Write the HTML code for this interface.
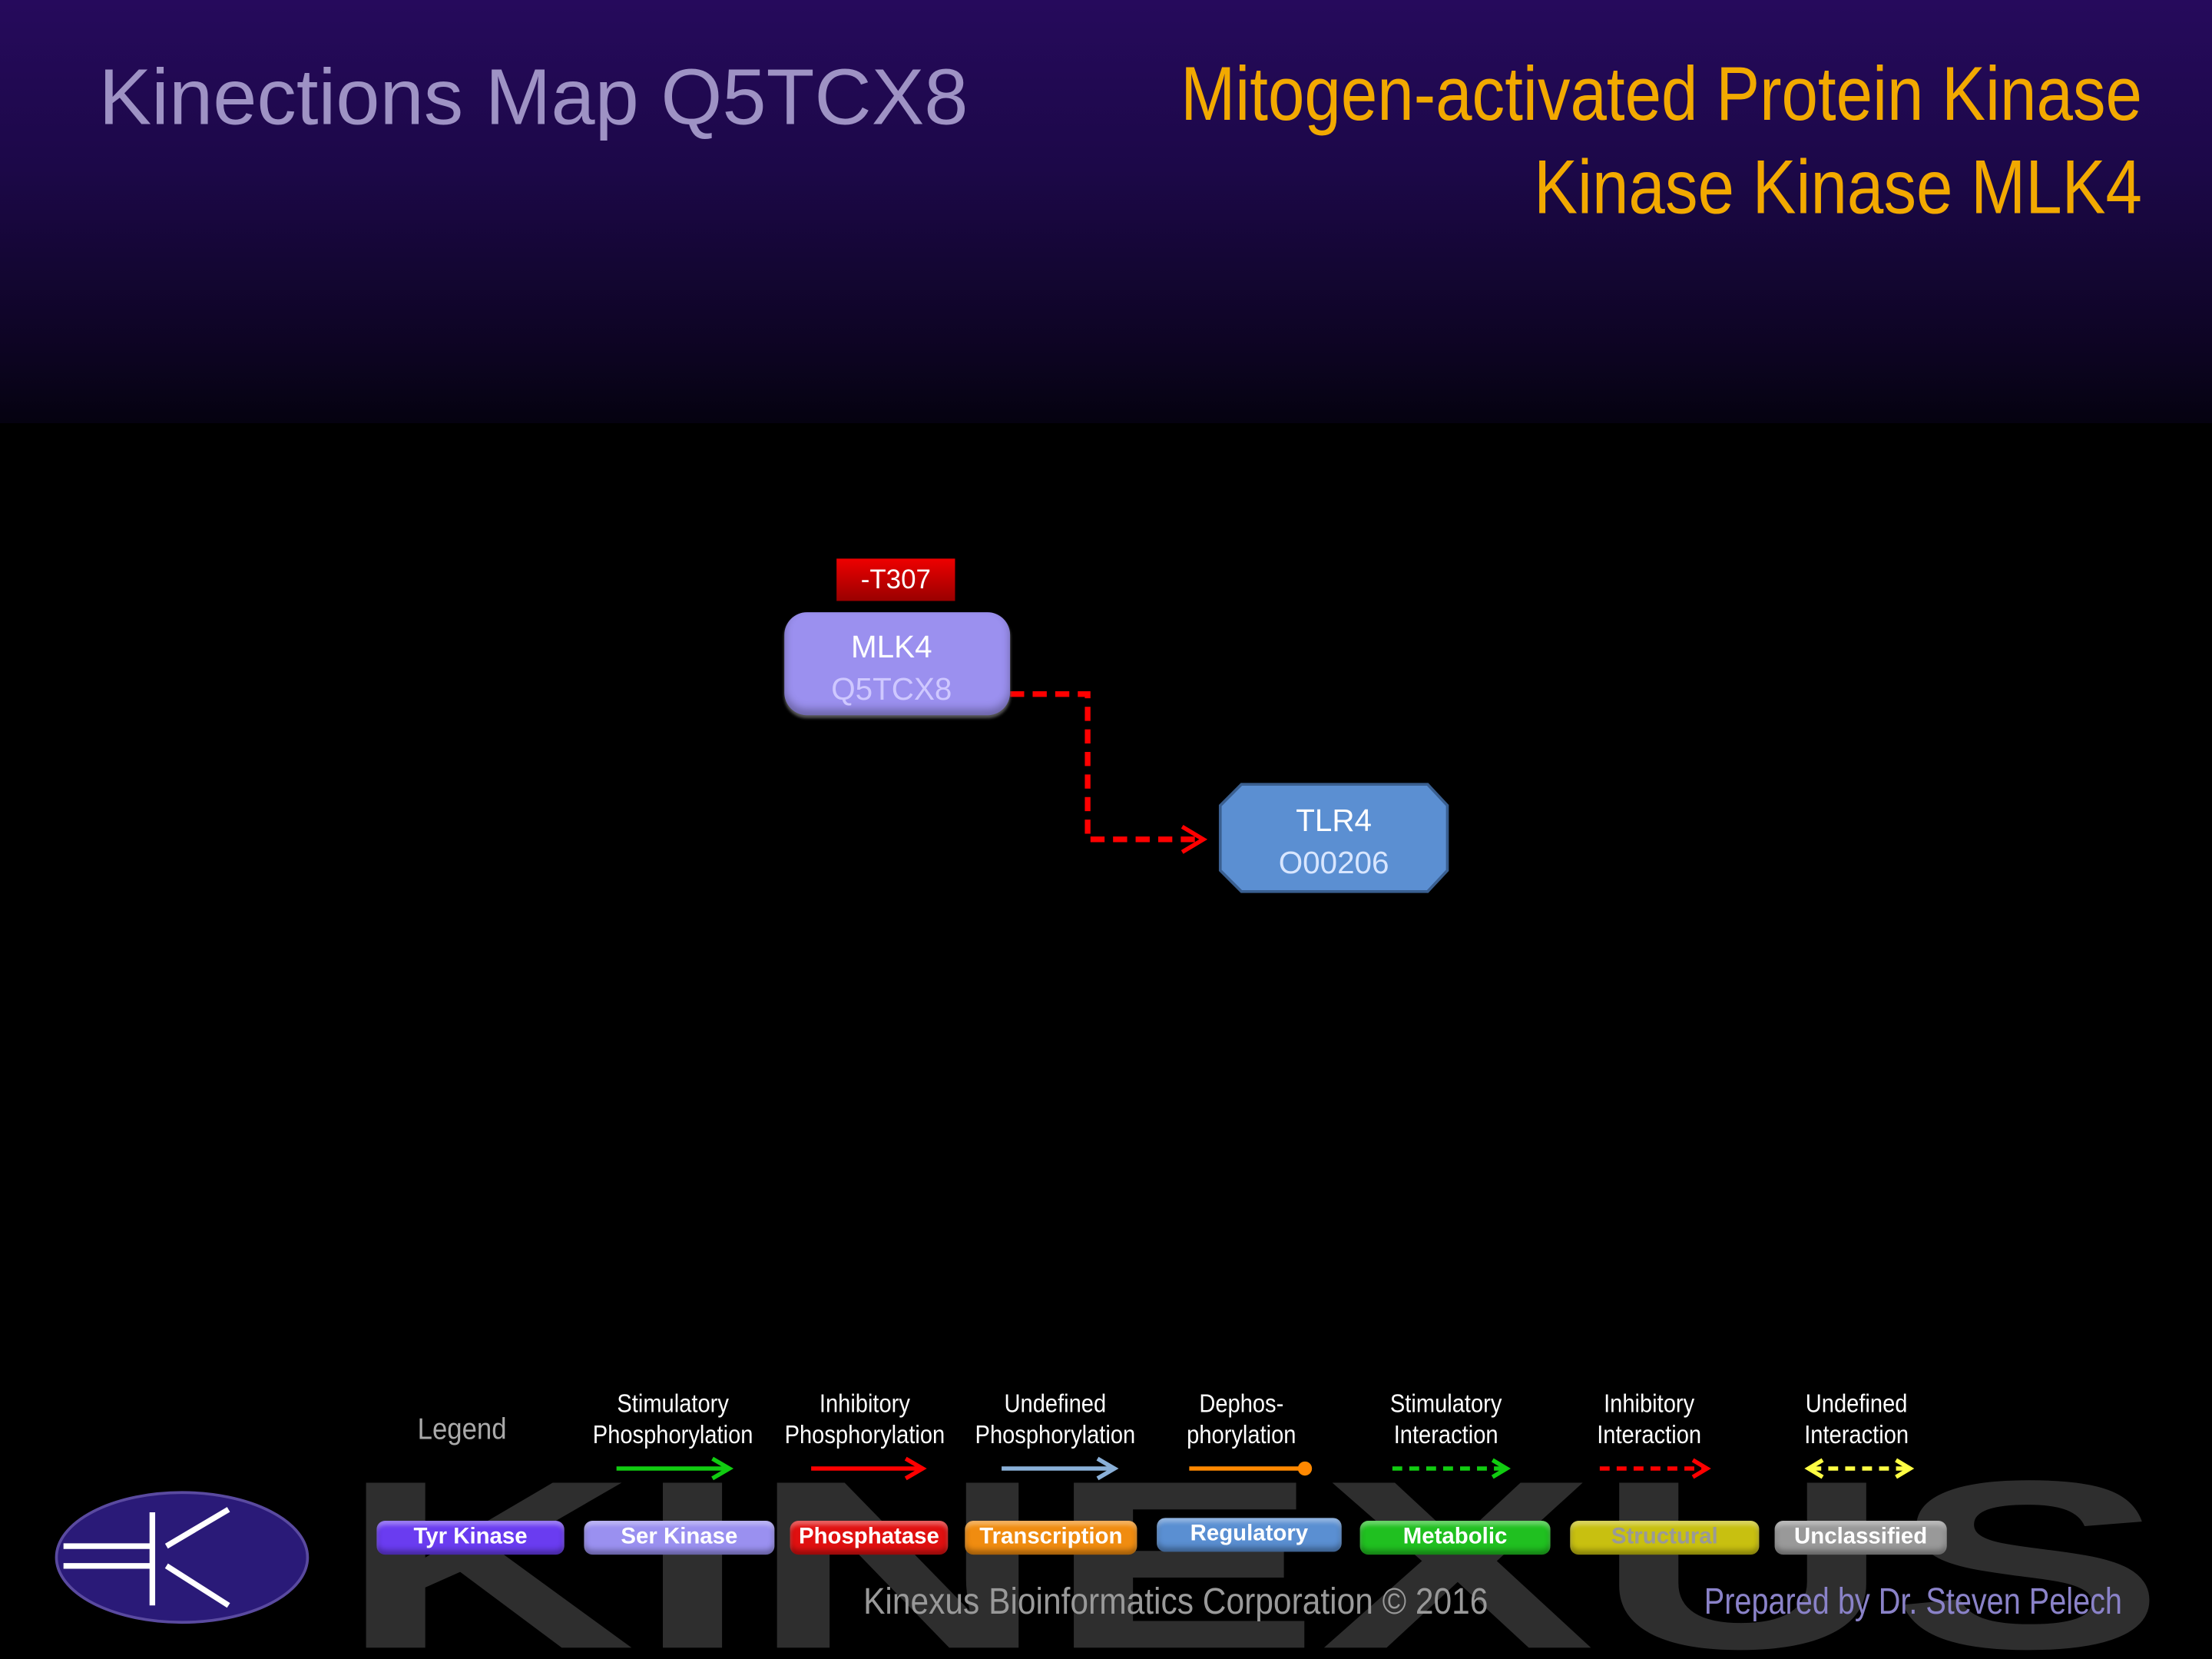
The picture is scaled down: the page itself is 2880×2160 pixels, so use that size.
<!DOCTYPE html>
<html><head><meta charset="utf-8">
<style>
html,body{margin:0;padding:0;background:#000;width:2880px;height:2160px;overflow:hidden}
#s{position:absolute;left:0;top:0;width:1568px;height:1176px;transform:scale(1.83673);transform-origin:0 0;font-family:"Liberation Sans",sans-serif;background:#000}
.hdr{position:absolute;left:0;top:0;width:1568px;height:300px;background:linear-gradient(#260a5c 0%,#1c0848 40%,#0c0420 85%,#050210 100%)}
.t{position:absolute;white-space:nowrap}
.lab{position:absolute;color:#fff;font-size:18px;text-align:center;line-height:22px;transform:scaleX(0.88);white-space:nowrap}
.pill{position:absolute;height:24px;top:1078px;border-radius:6px;color:#fff;font-weight:bold;font-size:16px;text-align:center;line-height:24px;box-shadow:inset 0 -3px 4px rgba(0,0,0,.35),inset 0 3px 3px rgba(255,255,255,.35)}
</style></head><body><div id="s">
<div class="hdr"></div>
<div class="t" style="left:70px;top:36px;font-size:56px;color:#9e92c4">Kinections Map Q5TCX8</div>
<div class="t" style="right:50px;top:34px;font-size:54px;color:#f2a900;text-align:right;line-height:66px;transform:scaleX(0.86);transform-origin:right top">Mitogen-activated Protein Kinase<br>Kinase Kinase MLK4</div>

<svg style="position:absolute;left:0;top:0" width="1568" height="1176">
<text x="240" y="1168" font-family="Liberation Sans" font-weight="bold" font-size="170" fill="#2e2e2e" textLength="1295" lengthAdjust="spacingAndGlyphs">KINEXUS</text>
<polyline points="716,492 771,492 771,595 848,595" fill="none" stroke="#f00" stroke-width="4" stroke-dasharray="10,6"/>
<polyline points="838,586 853,595 838,604" fill="none" stroke="#f00" stroke-width="3"/>
<polygon points="880,556 1012,556 1026,571 1026,617 1012,632 880,632 865,617 865,571" fill="#5b8fd2" stroke="#3a5f90" stroke-width="2"/>
<ellipse cx="129" cy="1104" rx="89" ry="46" fill="#2a1a78" stroke="#5a4aa0" stroke-width="2"/>
<g stroke="#fff" stroke-width="4" fill="none">
<line x1="45" y1="1096" x2="108" y2="1096"/><line x1="45" y1="1110" x2="108" y2="1110"/>
<line x1="108" y1="1072" x2="108" y2="1138"/><line x1="118" y1="1096" x2="162" y2="1070"/><line x1="118" y1="1110" x2="162" y2="1138"/>
</g>
<g stroke-width="3" fill="none">
<line x1="437" y1="1041" x2="515" y2="1041" stroke="#1c1"/><polyline points="505,1034 517,1041 505,1048" stroke="#1c1"/>
<line x1="575" y1="1041" x2="652" y2="1041" stroke="#f00"/><polyline points="642,1034 654,1041 642,1048" stroke="#f00"/>
<line x1="710" y1="1041" x2="788" y2="1041" stroke="#8ab0d8"/><polyline points="778,1034 790,1041 778,1048" stroke="#8ab0d8"/>
<line x1="843" y1="1041" x2="922" y2="1041" stroke="#f80"/>
<line x1="987" y1="1041" x2="1066" y2="1041" stroke="#1c1" stroke-dasharray="7,5"/><polyline points="1058,1035 1068,1041 1058,1047" stroke="#1c1"/>
<line x1="1134" y1="1041" x2="1208" y2="1041" stroke="#f00" stroke-dasharray="7,5"/><polyline points="1200,1035 1210,1041 1200,1047" stroke="#f00"/>
<line x1="1284" y1="1041" x2="1352" y2="1041" stroke="#ff4" stroke-dasharray="7,5"/><polyline points="1292,1035 1282,1041 1292,1047" stroke="#ff4"/><polyline points="1344,1035 1354,1041 1344,1047" stroke="#ff4"/>
</g>
<circle cx="925" cy="1041" r="5" fill="#f80"/>
</svg>

<div style="position:absolute;left:593px;top:396px;width:84px;height:30px;background:linear-gradient(#e00,#900);color:#fff;font-size:19px;text-align:center;line-height:32px">-T307</div>
<div style="position:absolute;left:556px;top:434px;width:160px;height:73px;border-radius:16px;background:#9b90ef;box-shadow:inset 0 -4px 6px rgba(0,0,0,.3),0 2px 2px #555"></div>
<div class="t" style="left:552px;width:160px;text-align:center;top:446px;font-size:22px;color:#fff">MLK4</div>
<div class="t" style="left:552px;width:160px;text-align:center;top:476px;font-size:22px;color:#cfc8ff">Q5TCX8</div>
<div class="t" style="left:865px;width:161px;text-align:center;top:569px;font-size:22px;color:#fff">TLR4</div>
<div class="t" style="left:865px;width:161px;text-align:center;top:599px;font-size:22px;color:#d8e6ff">O00206</div>

<div class="t" style="left:296px;top:1002px;font-size:21px;color:#aaa;transform:scaleX(0.9);transform-origin:left">Legend</div>
<div class="lab" style="left:407px;top:984px;width:140px">Stimulatory<br>Phosphorylation</div>
<div class="lab" style="left:543px;top:984px;width:140px">Inhibitory<br>Phosphorylation</div>
<div class="lab" style="left:678px;top:984px;width:140px">Undefined<br>Phosphorylation</div>
<div class="lab" style="left:810px;top:984px;width:140px">Dephos-<br>phorylation</div>
<div class="lab" style="left:955px;top:984px;width:140px">Stimulatory<br>Interaction</div>
<div class="lab" style="left:1099px;top:984px;width:140px">Inhibitory<br>Interaction</div>
<div class="lab" style="left:1246px;top:984px;width:140px">Undefined<br>Interaction</div>

<div class="pill" style="left:267px;width:133px;background:#6a3cf0">Tyr Kinase</div>
<div class="pill" style="left:414px;width:135px;background:#9a90f0">Ser Kinase</div>
<div class="pill" style="left:560px;width:112px;background:#e01010">Phosphatase</div>
<div class="pill" style="left:684px;width:122px;background:#f08c10">Transcription</div>
<div class="pill" style="left:820px;width:131px;top:1076px;background:#5a8fd2">Regulatory</div>
<div class="pill" style="left:964px;width:135px;background:#20c020">Metabolic</div>
<div class="pill" style="left:1113px;width:134px;background:#c8c010;color:#999">Structural</div>
<div class="pill" style="left:1258px;width:122px;background:#999">Unclassified</div>

<div class="t" style="left:612px;top:1120px;font-size:26px;color:#999;transform:scaleX(0.89);transform-origin:left">Kinexus Bioinformatics Corporation © 2016</div>
<div class="t" style="left:1208px;top:1120px;font-size:26px;color:#8a82c8;transform:scaleX(0.83);transform-origin:left">Prepared by Dr. Steven Pelech</div>
</div></body></html>
